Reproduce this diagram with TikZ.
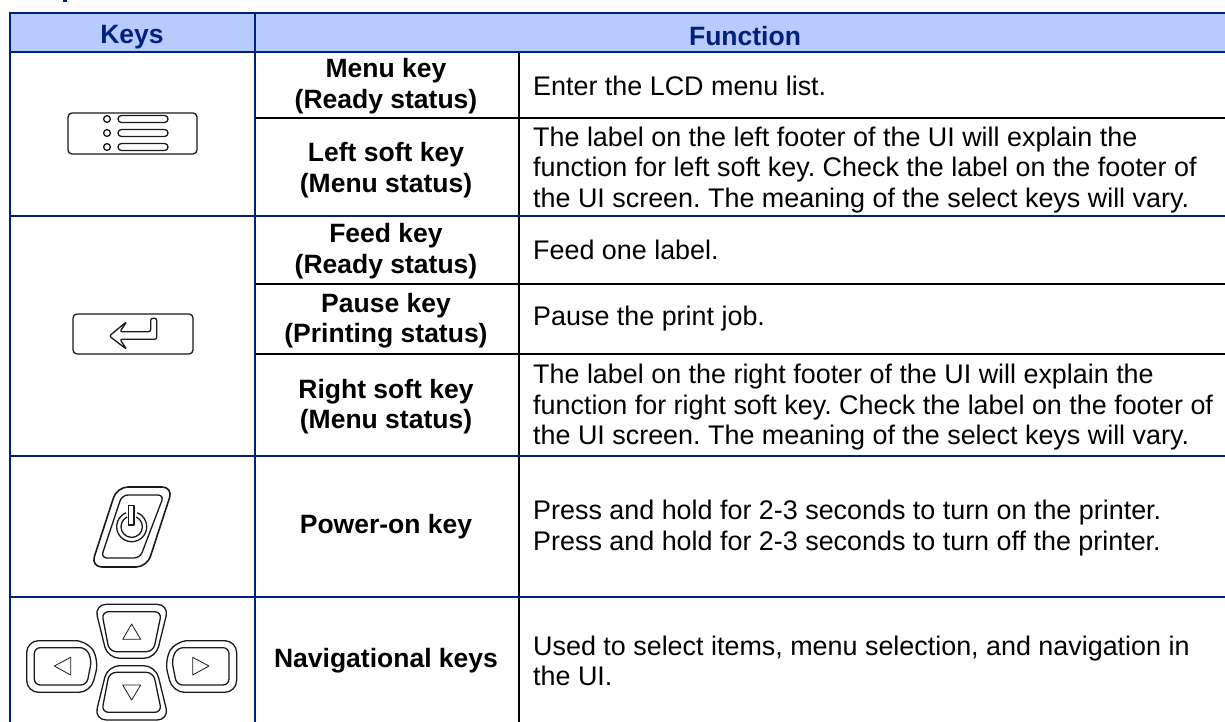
\documentclass[tikz,border=0pt]{standalone}
\usepackage{fontspec}
\setmainfont{Liberation Sans}
\definecolor{navy}{HTML}{00207A}
\definecolor{headfill}{HTML}{B8CBFF}
\definecolor{ink}{HTML}{1A1A1A}
\tikzset{
  navyline/.style={draw=navy,line width=2pt},
  blackline/.style={draw=black,line width=2pt},
  headtext/.style={text=navy,font=\fontsize{26.5}{30}\selectfont\bfseries,align=center,inner sep=0pt},
  keytext/.style={text=black,font=\fontsize{26.5}{30.5}\selectfont\bfseries,align=center,inner sep=0pt},
  bodytext/.style={text=black,font=\fontsize{26.9}{30.5}\selectfont,align=left,anchor=west,inner sep=0pt},
  glyph/.style={draw=ink,line width=1.3pt,line join=round},
  thinglyph/.style={draw=ink,line width=.8pt,line join=round},
  zoomed/.style={x=0.33333pt,y=-0.33333pt,shift={(#1)}}
}
\begin{document}
\frenchspacing
\begin{tikzpicture}[x=1pt,y=-1pt]
\useasboundingbox (0,0) rectangle (1225,722);
\fill[white] (0,0) rectangle (1225,722);
\fill[headfill] (10,13) rectangle (1225,52);
% fragment of the cropped heading
\fill[navy] (63,0) rectangle (67,2);
% grid
\draw[blackline] (519,52) -- (519,722);
\foreach \yy in {118,284,354}{\draw[blackline] (254,\yy) -- (1225,\yy);}
\foreach \yy in {13,52,216,456,597}{\draw[navyline] (9,\yy) -- (1225,\yy);}
\draw[navyline] (10,12) -- (10,722);
\draw[navyline] (254.5,13) -- (254.5,722);
% header
\node[headtext] (hk) at (132,37) {Keys};
\node[headtext] (hf) at (745,36) {Function};
% column 2
\node[keytext] (k1) at (386,86) {Menu key\\(Ready status)};
\node[keytext] (k2) at (386,170) {Left soft key\\(Menu status)};
\node[keytext] (k3) at (386,251) {Feed key\\(Ready status)};
\node[keytext] (k4) at (386,320.5) {Pause key\\(Printing status)};
\node[keytext] (k5) at (386,406.5) {Right soft key\\(Menu status)};
\node[keytext] (k6) at (386,527) {Power-on key};
\node[keytext] (k7) at (386,661) {Navigational keys};
% column 3
\node[bodytext] (b1) at (533,86) {Enter the LCD menu list.};
\node[bodytext] (b2) at (533,170) {The label on the left footer of the UI will explain the\\function for left soft key. Check the label on the footer of\\the UI screen. The meaning of the select keys will vary.};
\node[bodytext] (b3) at (533,249.5) {Feed one label.};
\node[bodytext] (b4) at (533,319) {Pause the print job.};
\node[bodytext] (b5) at (533,407.5) {The label on the right footer of the UI will explain the\\function for right soft key. Check the label on the footer of\\the UI screen. The meaning of the select keys will vary.};
\node[bodytext] (b6) at (533,528) {Press and hold for 2-3 seconds to turn on the printer.\\Press and hold for 2-3 seconds to turn off the printer.};
\node[bodytext] (b7) at (533,661) {Used to select items, menu selection, and navigation in\\the UI.};
% menu key
\draw[glyph,rounded corners=4pt] (68,113) rectangle (197,154);
\foreach \yy in {119,133,147}{
  \draw[glyph] (107,\yy) circle (3.4);
  \draw[glyph,rounded corners=3.4pt] (118,\yy-3.5) rectangle (168,\yy+3.5);
}
% enter key
\draw[glyph,rounded corners=4pt] (73,314) rectangle (193,354);
\begin{scope}[zoomed={0pt,-240pt}]
  \draw[glyph,rounded corners=2pt] (380,245) -- (328,288) -- (380,328) -- (360,298) -- (470,298) -- (470,235) -- (452,235) -- (452,275) -- (360,275) -- cycle;
\end{scope}
% power key
\draw[glyph,line width=1.6pt,rounded corners=11pt] (117,487) -- (173,487) -- (147,567) -- (91,567) -- cycle;
\draw[glyph,rounded corners=6pt] (122,495) -- (164,495) -- (140,558) -- (101,558) -- cycle;
\draw[glyph] (131.7,526.7) ++(-68:15) arc[start angle=-68,end angle=248,radius=15];
\draw[glyph] (131.7,526.7) ++(-65:10.7) arc[start angle=-65,end angle=245,radius=10.7];
\draw[glyph] (128.7,505.7) rectangle (134,525);
% navigation keys
\begin{scope}[zoomed={0pt,-560pt}]
  \draw[glyph,rounded corners=12pt] (283,133) -- (507,133) -- (467,295) -- (323,295) -- cycle;
  \draw[glyph,rounded corners=7pt] (305,155) -- (485,155) -- (460,275) -- (328,275) -- cycle;
  \draw[thinglyph] (395,192) -- (368,238) -- (422,238) -- cycle;
  \draw[glyph,rounded corners=12pt] (283,480) -- (507,480) -- (467,317) -- (323,317) -- cycle;
  \draw[glyph,rounded corners=7pt] (305,457) -- (485,457) -- (460,337) -- (328,337) -- cycle;
  \draw[thinglyph] (395,420) -- (368,375) -- (422,375) -- cycle;
  \draw[glyph,rounded corners=12pt] (80,242) -- (262,242) -- (297,300) -- (272,397) -- (80,397) -- cycle;
  \draw[glyph,rounded corners=6pt] (103,263) -- (258,263) -- (275,300) -- (260,375) -- (103,375) -- cycle;
  \draw[thinglyph] (163,318) -- (212,292) -- (212,345) -- cycle;
  \draw[glyph,rounded corners=12pt] (710,242) -- (528,242) -- (493,300) -- (518,397) -- (710,397) -- cycle;
  \draw[glyph,rounded corners=6pt] (687,263) -- (532,263) -- (515,300) -- (530,375) -- (687,375) -- cycle;
  \draw[thinglyph] (627,318) -- (578,292) -- (578,345) -- cycle;
\end{scope}
\end{tikzpicture}
\end{document}
